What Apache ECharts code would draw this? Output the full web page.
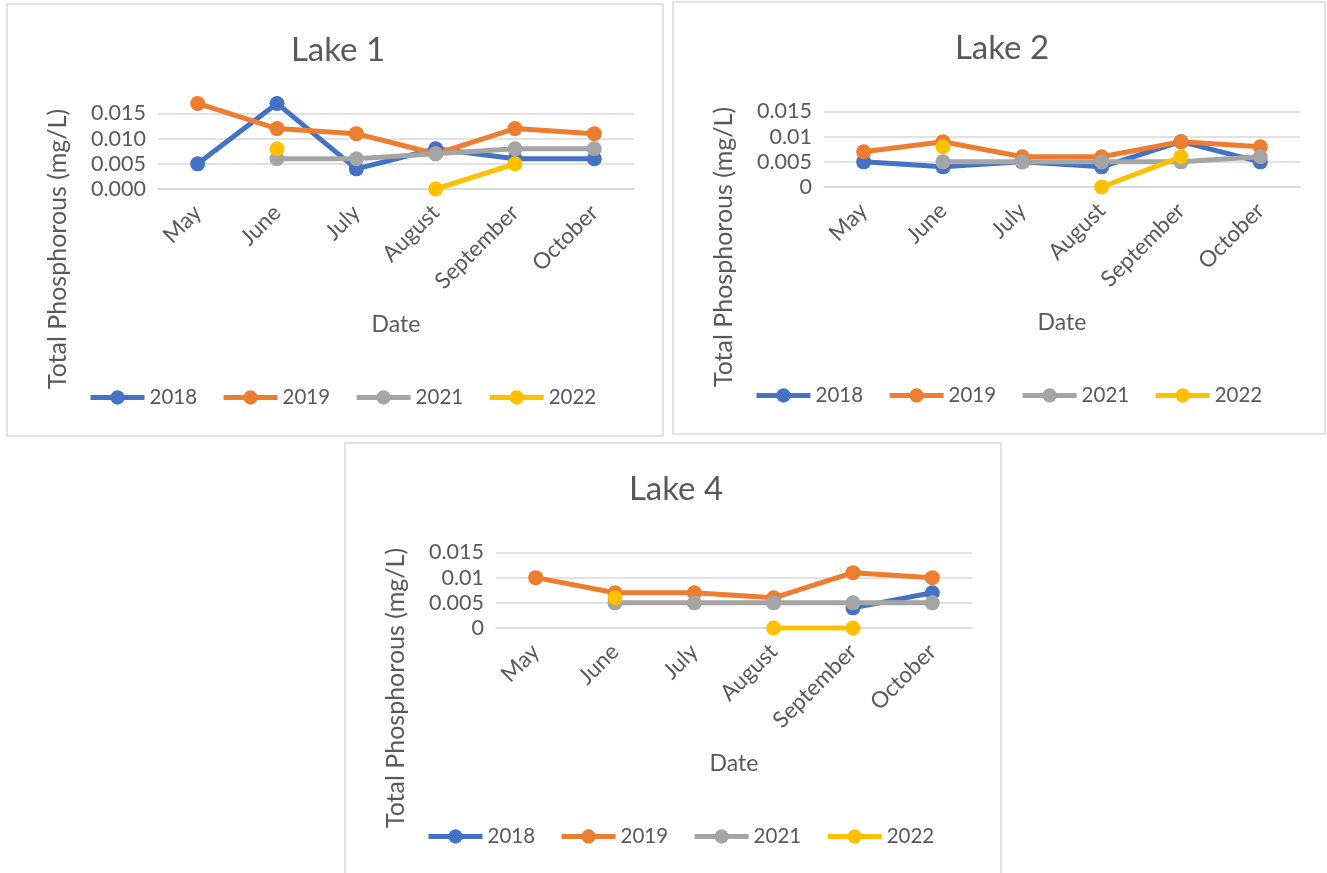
<!DOCTYPE html>
<html>
<head>
<meta charset="utf-8">
<script src="https://cdn.jsdelivr.net/npm/echarts@6/dist/echarts.min.js"></script>
<style>
html,body{margin:0;padding:0;background:#fff;}
#c{width:1327px;height:873px;}
</style>
</head>
<body>
<div id="c"></div>
<script>
const months = ['May', 'June', 'July', 'August', 'September', 'October'];
const years = ['2018', '2019', '2021', '2022'];
const yTicks1 = ['0.000', '0.005', '0.010', '0.015'];
const yTicks24 = ['0', '0.005', '0.01', '0.015'];

const lake1_2018 = [0.005, 0.017, 0.004, 0.008, 0.006, 0.006];
const lake1_2019 = [0.017, 0.012, 0.011, 0.007, 0.012, 0.011];
const lake1_2021 = [null, 0.006, 0.006, 0.007, 0.008, 0.008];
const lake1_2022 = [null, 0.008, null, 0, 0.005, null];

const lake2_2018 = [0.005, 0.004, 0.005, 0.004, 0.009, 0.005];
const lake2_2019 = [0.007, 0.009, 0.006, 0.006, 0.009, 0.008];
const lake2_2021 = [null, 0.005, 0.005, 0.005, 0.005, 0.006];
const lake2_2022 = [null, 0.008, null, 0, 0.006, null];

const lake4_2018 = [null, null, null, null, 0.004, 0.007];
const lake4_2019 = [0.010, 0.007, 0.007, 0.006, 0.011, 0.010];
const lake4_2021 = [null, 0.005, 0.005, 0.005, 0.005, 0.005];
const lake4_2022 = [null, 0.006, null, 0, 0, null];

const colors = ['#4472C4', '#ED7D31', '#A5A5A5', '#FFC000'];
const FONT = 'Lato';
const TXT = '#595959';

const panels = [
  {title: 'Lake 1', x: 7, y: 4, w: 656, h: 432, ticks: yTicks1, data: [lake1_2018, lake1_2019, lake1_2021, lake1_2022]},
  {title: 'Lake 2', x: 673, y: 2, w: 652, h: 432, ticks: yTicks24, data: [lake2_2018, lake2_2019, lake2_2021, lake2_2022]},
  {title: 'Lake 4', x: 345, y: 443, w: 656, h: 440, ticks: yTicks24, data: [lake4_2018, lake4_2019, lake4_2021, lake4_2022]}
];

const chart = echarts.init(document.getElementById('c'), null, {renderer: 'canvas'});

const grid = [], xAxis = [], yAxis = [], series = [], title = [], legend = [], graphic = [];

panels.forEach((p, i) => {
  graphic.push({
    type: 'rect', z: -10, silent: true,
    shape: {x: p.x, y: p.y, width: p.w, height: p.h},
    style: {fill: '#fff', stroke: '#d9d9d9', lineWidth: 1.5}
  });
  const gl = p.x + 151, gt = p.y + 109.5;
  grid.push({left: gl, top: gt, width: 476, height: 75.5, containLabel: false});
  title.push({
    text: p.title, left: p.x + p.w / 2 - 2, top: p.y + 25, textAlign: 'center',
    textStyle: {fontFamily: FONT, fontSize: 33, fontWeight: 'normal', color: TXT}
  });
  xAxis.push({
    type: 'category', gridIndex: i, data: months, boundaryGap: true,
    name: 'Date', nameLocation: 'middle', nameGap: 124,
    nameTextStyle: {fontFamily: FONT, fontSize: 23, color: TXT},
    axisLine: {show: true, lineStyle: {color: '#d9d9d9', width: 1.5}},
    axisTick: {show: false},
    axisLabel: {rotate: 45, margin: 20, fontFamily: FONT, fontSize: 22.5, color: TXT, interval: 0}
  });
  const ticks = p.ticks;
  yAxis.push({
    type: 'value', gridIndex: i, min: 0, max: 0.015, interval: 0.005,
    axisLine: {show: false}, axisTick: {show: false},
    splitLine: {lineStyle: {color: '#d9d9d9', width: 1.5}},
    axisLabel: {
      margin: 12, fontFamily: FONT, fontSize: 21.5, color: TXT,
      formatter: (v) => ticks[Math.round(v / 0.005)]
    }
  });
  graphic.push({
    type: 'text', silent: true,
    x: p.x + 51, y: p.y + 245, rotation: Math.PI / 2,
    style: {text: 'Total Phosphorous (mg/L)', font: '25px ' + FONT, fill: TXT, align: 'center', verticalAlign: 'middle'}
  });
  legend.push({
    data: years, left: p.x + 76, top: p.y + 378, itemWidth: 54, itemHeight: 18, itemGap: 24,
    textStyle: {fontFamily: FONT, fontSize: 20.5, color: TXT},
    lineStyle: {width: 5},
    selectedMode: false
  });
  years.forEach((yr, k) => {
    series.push({
      name: yr, type: 'line', xAxisIndex: i, yAxisIndex: i,
      data: p.data[k], clip: false, connectNulls: false,
      symbol: 'circle', symbolSize: 15,
      lineStyle: {width: 5, color: colors[k]},
      itemStyle: {color: colors[k]},
      emphasis: {disabled: true}, animation: false
    });
  });
});

chart.setOption({
  animation: false,
  textStyle: {fontFamily: FONT},
  color: colors,
  title, grid, xAxis, yAxis, legend, series, graphic
});
</script>
</body>
</html>
